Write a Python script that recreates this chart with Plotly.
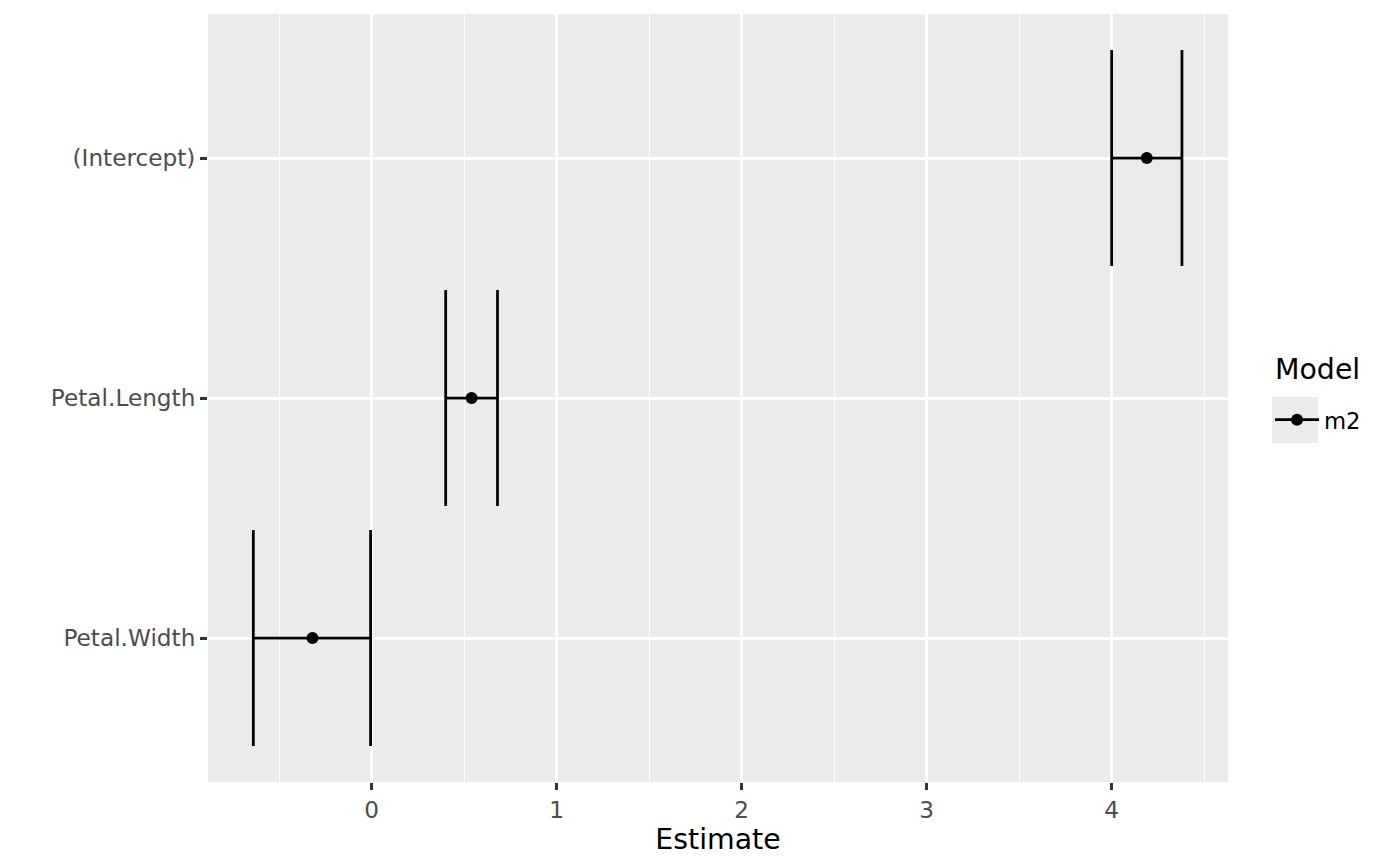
import plotly.graph_objects as go

# coefficient estimates with 95% intervals, model m2
terms = ["Petal.Width", "Petal.Length", "(Intercept)"]
estimate = [-0.32, 0.54, 4.19]
conf_low = [-0.64, 0.40, 4.00]
conf_high = [-0.006, 0.68, 4.38]
model_name = "m2"

x_ticks = [0, 1, 2, 3, 4]

grey_bg = "#EBEBEB"
tick_col = "#333333"
label_col = "#4D4D4D"
font_family = "DejaVu Sans"

fig = go.Figure()

fig.add_trace(go.Scatter(
    x=estimate,
    y=terms,
    mode="markers",
    marker=dict(color="black", size=12),
    error_x=dict(
        type="data",
        symmetric=False,
        array=[h - e for h, e in zip(conf_high, estimate)],
        arrayminus=[e - l for e, l in zip(estimate, conf_low)],
        color="black",
        thickness=2.75,
        width=108,
    ),
    showlegend=False,
    hoverinfo="x+y",
))

# legend entry only (line + point like the ggplot key)
fig.add_trace(go.Scatter(
    x=[None], y=[None],
    mode="lines+markers",
    name=model_name,
    line=dict(color="black", width=2.75),
    marker=dict(color="black", size=12),
))

# page body has an 8px margin, so the figure is a bit smaller than the window
fig.update_layout(
    width=1392,
    height=858,
    paper_bgcolor="white",
    plot_bgcolor=grey_bg,
    font=dict(family=font_family, color="black"),
    margin=dict(l=200, r=172, t=6, b=84),
    legend=dict(
        font=dict(size=22.7, color="black"),
        x=1.0412, y=0.4714,
        xanchor="left", yanchor="middle",
        bgcolor="rgba(0,0,0,0)",
        itemwidth=44,
    ),
    annotations=[dict(
        text="Model", xref="paper", yref="paper",
        x=1.0441, y=0.5365, xanchor="left", yanchor="middle",
        showarrow=False, font=dict(size=28.4, color="black"),
    )],
    shapes=[dict(
        type="rect", xref="paper", yref="paper",
        x0=1.0431, x1=1.0882, y0=0.4414, y1=0.5013,
        fillcolor=grey_bg, line=dict(width=0), layer="below",
    )],
)

fig.update_xaxes(
    range=[-0.885, 4.629],
    tickvals=x_ticks,
    ticktext=[str(v) for v in x_ticks],
    ticks="outside", ticklen=7, tickwidth=2.75, tickcolor=tick_col,
    tickfont=dict(size=23.2, color=label_col),
    showgrid=True, gridcolor="white", gridwidth=2.75,
    minor=dict(dtick=0.5, tick0=0, showgrid=True, gridcolor="white",
               gridwidth=1.375, ticklen=0),
    zeroline=False, showline=False,
    title=dict(text="Estimate", font=dict(size=28.4, color="black"), standoff=3),
)

fig.update_yaxes(
    type="category",
    categoryorder="array", categoryarray=terms,
    range=[-0.6, 2.6],
    ticks="outside", ticklen=7, tickwidth=2.75, tickcolor=tick_col,
    tickfont=dict(size=23.2, color=label_col),
    showgrid=True, gridcolor="white", gridwidth=2.75,
    zeroline=False, showline=False,
)

fig.write_html("out.html")
